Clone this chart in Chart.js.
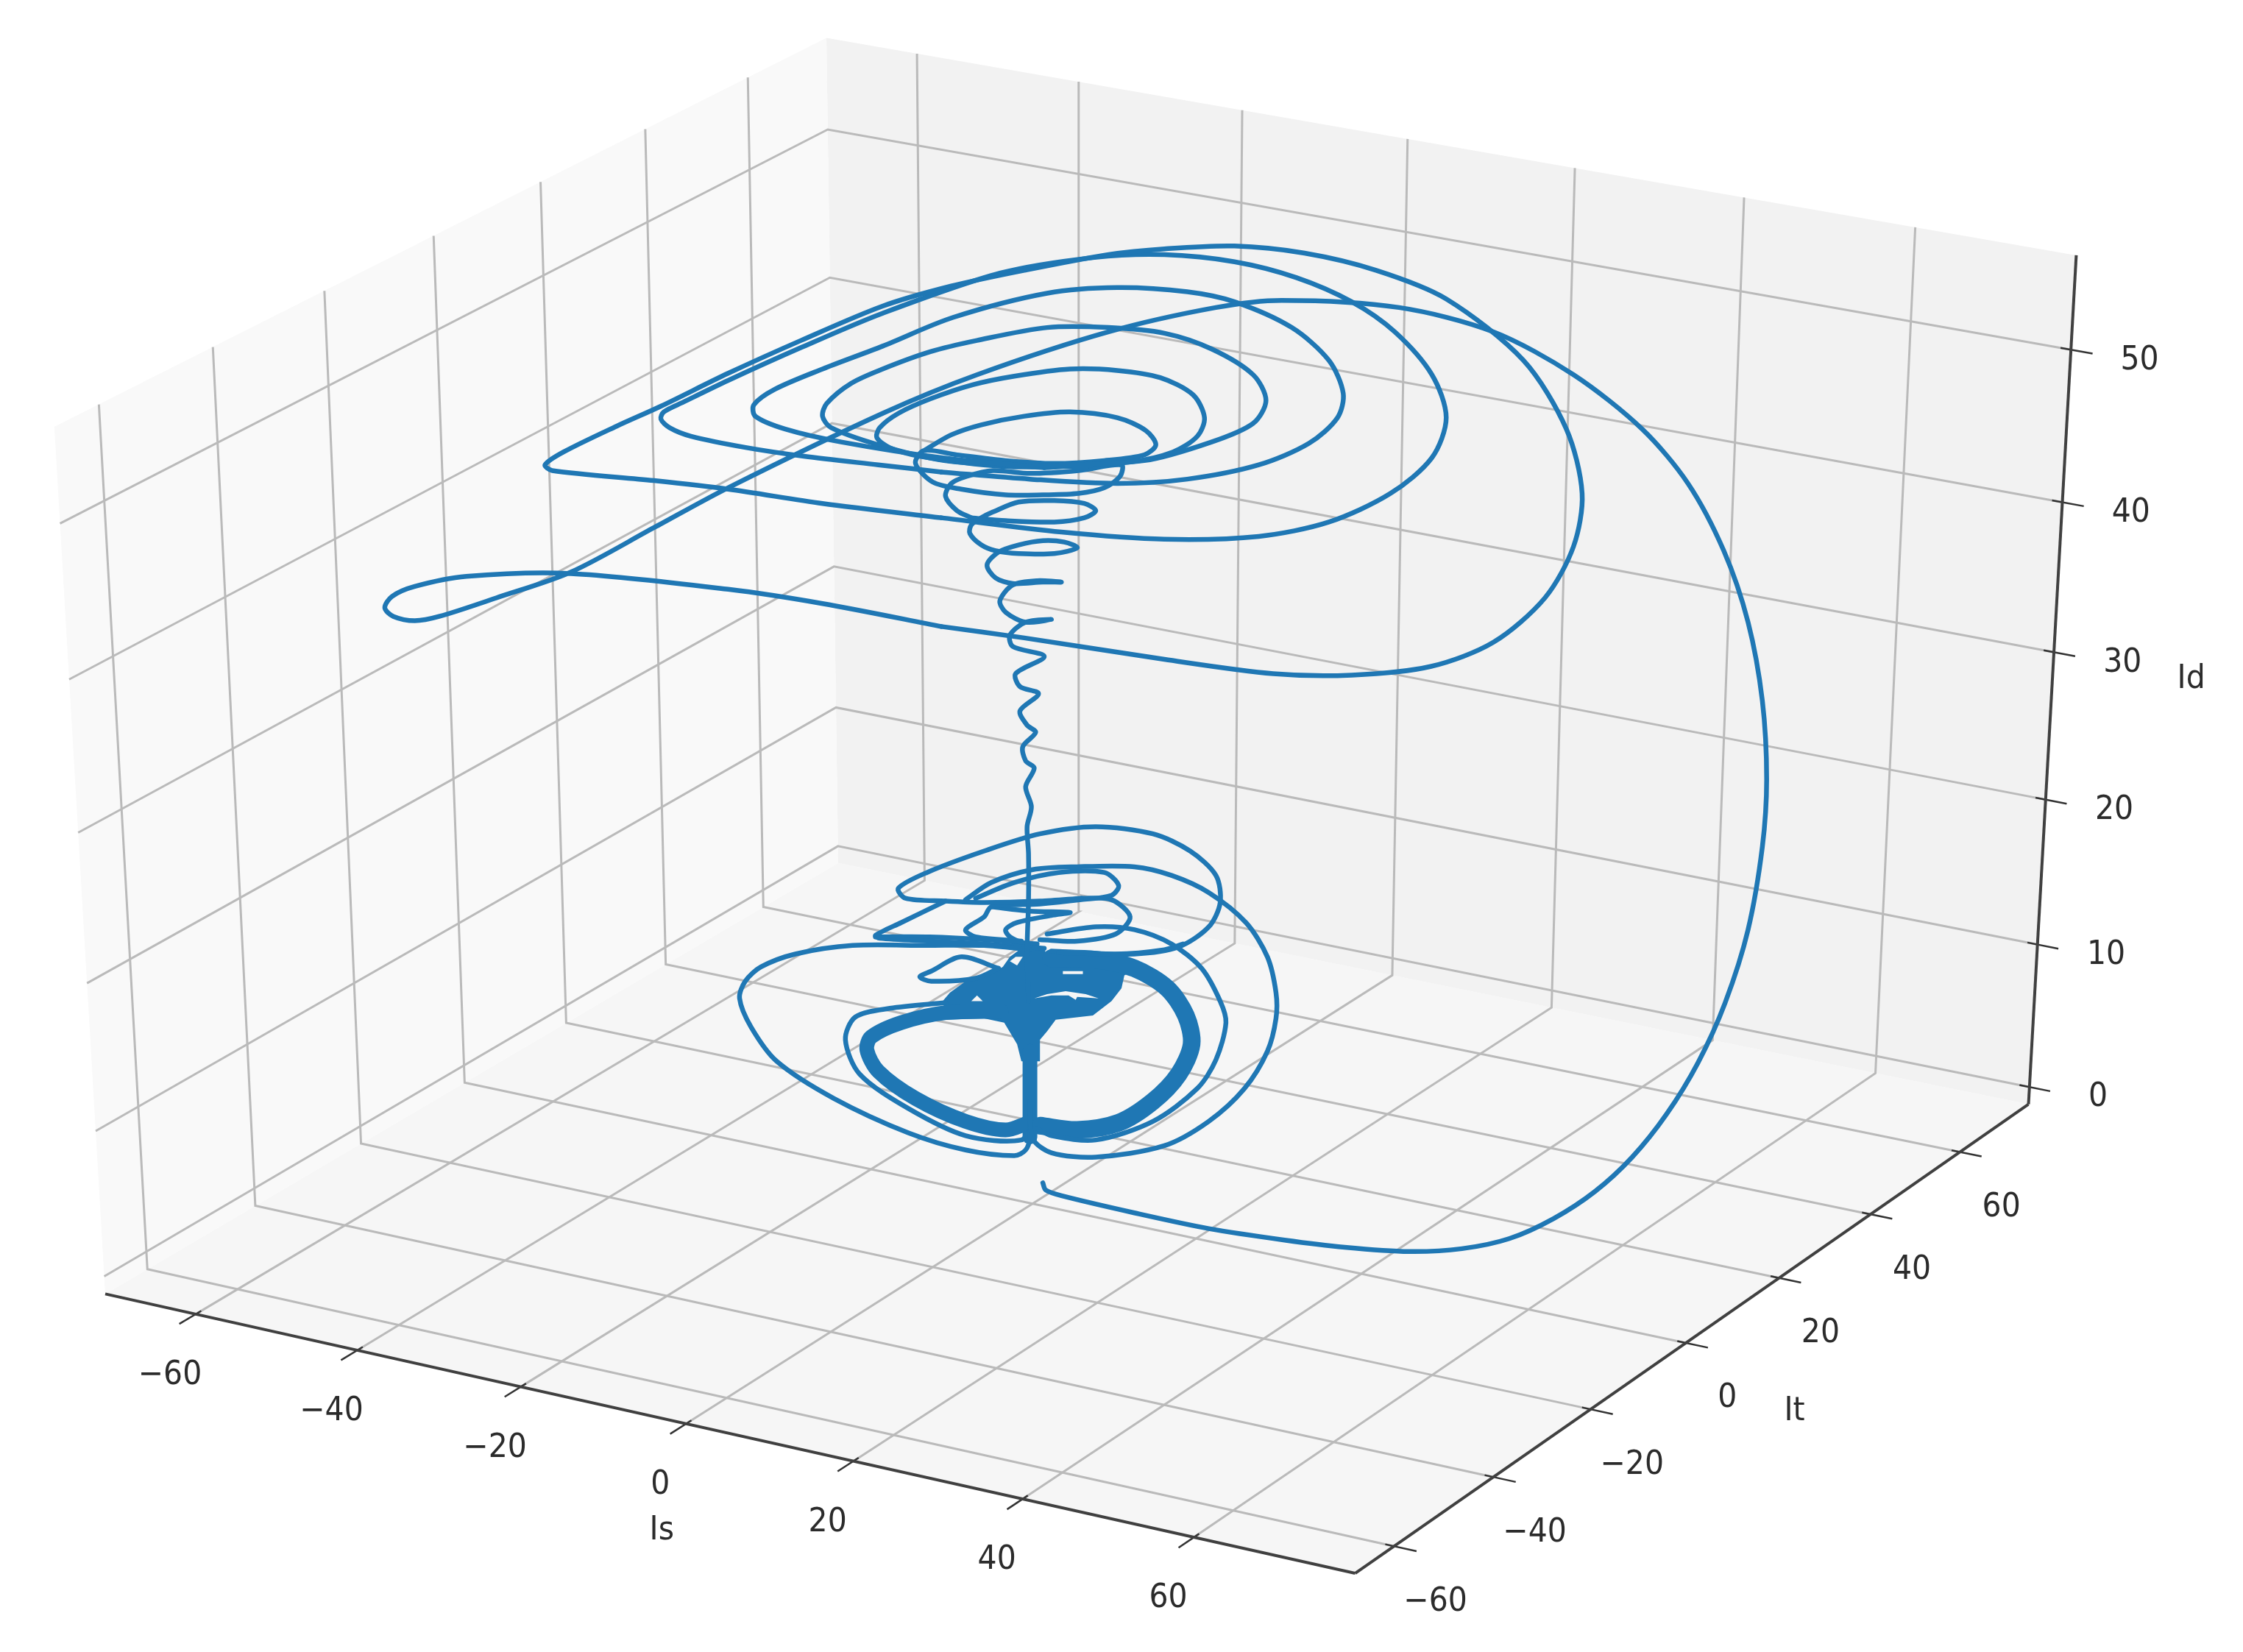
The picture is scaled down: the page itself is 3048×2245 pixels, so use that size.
<!DOCTYPE html>
<html>
<head>
<meta charset="utf-8">
<title>Is It Id</title>
<script src="https://cdn.jsdelivr.net/npm/chart.js@4/dist/chart.umd.min.js"></script>
<style>
  html, body { margin: 0; padding: 0; background: #fff; }
  canvas { display: block; }
</style>
</head>
<body>
<canvas id="chartJsCanvas" width="3048" height="2245"></canvas>
<script>
// tick labels of the three axes
const isTicks = [-60, -40, -20, 0, 20, 40, 60];
const itTicks = [-60, -40, -20, 0, 20, 40, 60];
const idTicks = [0, 10, 20, 30, 40, 50];

// axis limits
const isRange = [-71.3, 78.6];
const itRange = [-67.7, 75.6];
const idRange = [-1.22, 56.1];

// trajectory as [x, y] on the projected view plane
const tailArc = [[729,827],[731,832],[742,836],[793,848],[845,859],[898,867],[940,872],[985,875],[1022,873],[1055,866],[1086,852],[1115,833],[1141,809],[1165,779],[1187,743],[1206,701],[1222,650],[1232,592],[1235,545],[1232,490],[1222,435],[1205,385],[1180,338],[1148,300],[1100,262],[1044,232],[978,215],[896,210],[850,215],[775,232],[683,262],[617,289],[509,341],[457,369],[399,400],[347,418],[307,431],[290,434],[275,431],[269,425],[274,417],[290,410],[326,403],[399,401],[509,412],[575,422],[658,438]];
const ringOne = [[658,438],[716,446],[814,461],[890,471],[945,472],[1000,466],[1044,449],[1080,418],[1100,382],[1106,345],[1095,300],[1065,252],[1011,209],[962,189],[912,177],[863,172],[814,174],[775,178],[716,189],[665,200],[617,214],[560,238],[509,261],[462,284],[431,298],[394,316],[381,325],[386,329],[457,336],[509,342],[575,352],[658,362]];
const ringTwo = [[658,362],[742,372],[814,377],[880,375],[929,365],[972,345],[1001,320],[1011,292],[1001,262],[975,232],[945,211],[906,194],[863,183],[814,178],[765,180],[699,191],[617,219],[560,243],[509,266],[478,281],[464,288],[462,293],[468,299],[483,305],[522,313],[562,319],[614,325],[658,330]];
const ringThree = [[658,330],[720,335],[781,338],[830,335],[880,325],[915,310],[935,292],[939,275],[929,252],[903,229],[863,211],[830,204],[781,201],[732,205],[666,222],[617,242],[575,258],[542,272],[527,283],[528,291],[549,300],[588,309],[658,320],[720,326]];
const ringFour = [[720,326],[800,322],[847,309],[876,296],[885,280],[876,262],[847,244],[814,233],[775,229],[732,229],[683,238],[650,246],[617,258],[595,268],[578,282],[575,291],[581,299],[614,311],[660,322],[730,327]];
const ringFive = [[730,327],[790,323],[820,316],[837,305],[842,292],[834,276],[811,264],[781,259],[748,258],[709,263],[680,269],[650,279],[628,289],[615,299],[613,306],[622,313],[643,319],[700,326],[760,326]];
const ringSix = [[646,315],[665,304],[686,297],[716,291],[748,288],[781,292],[801,301],[808,311],[800,318],[772,322],[737,324],[703,322],[669,318],[646,315],[640,324],[652,337],[672,342],[703,346],[729,346],[754,345],[772,341],[783,333],[784,325],[754,329],[720,331],[694,329],[676,333],[665,338],[661,347],[669,357],[679,362]];
const funnel = [[679,362],[703,364],[737,365],[758,362],[766,357],[758,352],[737,350],[712,351],[694,358],[686,362],[679,367],[678,373],[686,381],[696,385],[712,387],[737,387],[753,383],[744,379],[729,378],[712,381],[698,386],[690,395],[696,404],[708,408],[729,407],[742,407],[725,406],[708,409],[699,420],[703,428],[717,435],[735,433],[717,435],[706,444],[708,452],[730,459],[710,471],[713,480],[726,485],[713,497],[718,507],[724,512],[715,522],[717,532],[723,537],[717,550],[721,564],[718,578],[719,597],[719,630],[718,665],[719,700]];
const lowerOuter = [[675,629],[693,617],[722,608],[753,606],[793,606],[819,612],[845,624],[871,645],[886,669],[892,694],[892,712],[886,735],[870,761],[845,784],[814,801],[766,809],[735,806],[722,796],[720,770]];
const lowerLeft = [[720,770],[720,795],[717,804],[709,808],[675,804],[635,792],[583,768],[543,742],[525,718],[517,698],[521,686],[532,676],[556,667],[596,661],[648,661],[688,661],[720,664]];
const lowerTop = [[740,666],[793,667],[824,662],[845,648],[853,631],[850,612],[832,595],[806,583],[766,578],[727,583],[688,595],[648,610],[628,621],[633,628],[661,630],[688,631],[727,630],[756,628]];
const lowerWedge = [[661,630],[630,645],[612,654],[615,656],[650,658],[688,660],[730,663]];
const lowerWedgeTwo = [[612,655],[650,655],[690,657],[725,660]];
const lowerMiddle = [[732,653],[766,648],[793,650],[819,660],[840,677],[853,700],[857,715],[850,741],[837,761],[806,784],[766,797],[735,794],[725,789]];
const lowerBulgeTop = [[682,628],[709,617],[740,610],[772,610],[782,619],[777,626],[756,629],[727,632],[693,634],[688,641],[675,650],[682,655],[714,658]];
const lowerBulgeMid = [[756,628],[777,629],[790,641],[780,653],[753,658],[727,657]];
const lowerLens = [[693,634],[720,637],[748,638],[735,640],[711,645],[703,650],[706,655],[716,660]];
const lowerCorner = [[698,677],[672,669],[651,679],[643,683],[651,686],[682,684],[698,677]];
const lowerShelf = [[735,665],[780,667],[814,664],[827,660]];
const ringLeftThin = [[661,701],[622,705],[598,711],[591,727],[601,751],[635,775],[675,794],[714,797],[722,785]];

// the turns that overlap so much they read as one wide band
const denseRight = [[727,787],[753,790],[782,785],[806,770],[824,751],[833,730],[829,710],[816,691],[793,677],[766,671],[735,670]];
const denseLeft = [[719,785],[703,790],[675,784],[640,768],[614,749],[606,734],[609,725],[630,715],[661,708],[700,707]];
const denseColumn = [[720,735],[720,760],[720,795]];
const denseCore = [[714,663],[730,663],[732,669],[790,670],[795,677],[786,682],[784,691],[777,700],[764,710],[738,713],[732,721],[727,727],[727,742],[714,742],[711,730],[702,715],[688,712],[662,713],[659,700],[664,694],[675,686],[688,683],[701,676],[706,669]];
const coreGapOne = [[723,698],[732,695],[745,693],[759,695],[768,698],[753,697],[752,699],[747,696],[735,696]];
const coreGapTwo = [[710,669],[715,669],[711,675],[706,672]];
const coreGapThree = [[679,700],[683,696],[687,700]];
const coreGapFour = [[743,679],[757,679],[757,681],[743,681]];

// matplotlib default view: elevation 30, azimuth -60, distance 10
const viewN = [0.433, -0.75, 0.5];
const viewU = [0.866, 0.5, 0];
const viewV = [-0.25, 0.433, 0.866];

function project(a, b, c) {
  const dx = (a - isRange[0]) / (isRange[1] - isRange[0]) - 0.5;
  const dy = (b - itRange[0]) / (itRange[1] - itRange[0]) - 0.5;
  const dz = (c - idRange[0]) / (idRange[1] - idRange[0]) - 0.5;
  const d = 10 - (viewN[0] * dx + viewN[1] * dy + viewN[2] * dz);
  const u = (viewU[0] * dx + viewU[1] * dy + viewU[2] * dz) / d;
  const v = (viewV[0] * dx + viewV[1] * dy + viewV[2] * dz) / d;
  return { x: 756.2 + 10086 * u, y: 544.9 - 6922 * v };
}

const [x0, x1] = isRange, [y0, y1] = itRange, [z0, z1] = idRange;
const datasets = [];

function path3d(points, color, width, order) {
  datasets.push({
    data: points.map(p => project(p[0], p[1], p[2])),
    pointRadius: 0, borderColor: color, borderWidth: width,
    tension: 0, order: order, borderCapStyle: 'butt'
  });
}
function pane(points, color) {
  datasets.push({
    data: points.map(p => project(p[0], p[1], p[2])),
    pointRadius: 0, borderWidth: 0, borderColor: color,
    backgroundColor: color, fill: 'shape', tension: 0, order: 50
  });
}
function trace(points, width, order) {
  datasets.push({
    data: points.map(p => ({ x: p[0], y: p[1] })),
    pointRadius: 0, borderColor: '#1f77b4', borderWidth: width || 6.5,
    tension: 0.3, order: order || 1, borderCapStyle: 'round', borderJoinStyle: 'round'
  });
}
function patch(points, color, order) {
  datasets.push({
    data: points.map(p => ({ x: p[0], y: p[1] })),
    pointRadius: 0, borderWidth: 0, borderColor: color,
    backgroundColor: color, fill: 'shape', tension: 0, order: order
  });
}

pane([[x0,y0,z0],[x0,y0,z1],[x0,y1,z1],[x0,y1,z0]], '#f9f9f9');
pane([[x0,y1,z0],[x0,y1,z1],[x1,y1,z1],[x1,y1,z0]], '#f2f2f2');
pane([[x0,y0,z0],[x1,y0,z0],[x1,y1,z0],[x0,y1,z0]], '#f6f6f6');

const gridColor = '#bababa';
const tickColor = '#333333';
isTicks.forEach(v => {
  path3d([[v,y0,z0],[v,y1,z0],[v,y1,z1]], gridColor, 3, 40);
  path3d([[v,y0-3,z0],[v,y0+1,z0]], tickColor, 2.5, 30);
});
itTicks.forEach(v => {
  path3d([[x1,v,z0],[x0,v,z0],[x0,v,z1]], gridColor, 3, 40);
  path3d([[x1+2.6,v,z0],[x1-1,v,z0]], tickColor, 2.5, 30);
});
idTicks.forEach(v => {
  path3d([[x1,y1,v],[x0,y1,v],[x0,y0,v]], gridColor, 3, 40);
  path3d([[x1+2.5,y1,v],[x1-1.2,y1,v]], tickColor, 2.5, 30);
});
path3d([[x0,y0,z0],[x1,y0,z0]], '#404040', 4, 20);
path3d([[x1,y0,z0],[x1,y1,z0]], '#404040', 4, 20);
path3d([[x1,y1,z0],[x1,y1,z1]], '#404040', 4, 20);

[tailArc, ringOne, ringTwo, ringThree, ringFour, ringFive, ringSix, funnel,
 lowerOuter, lowerLeft, lowerTop, lowerWedge, lowerWedgeTwo, lowerMiddle,
 lowerBulgeTop, lowerBulgeMid, lowerLens, lowerCorner, lowerShelf, ringLeftThin].forEach(s => trace(s));
trace(denseRight, 24, 2);
trace(denseLeft, 20, 2);
trace(denseColumn, 20, 2);
patch(denseCore, '#1f77b4', 3);
patch(coreGapOne, '#f6f6f6', 0);
patch(coreGapTwo, '#f6f6f6', 0);
patch(coreGapThree, '#f6f6f6', 0);
patch(coreGapFour, '#f6f6f6', 0);

const axisText = {
  id: 'axisText',
  afterDraw(chart) {
    const { ctx, scales } = chart;
    const put = (text, p, ox, oy) => {
      ctx.save();
      ctx.translate(scales.x.getPixelForValue(p.x + ox), scales.y.getPixelForValue(p.y + oy));
      ctx.scale(1, 1.1);
      ctx.font = '41px "DejaVu Sans"';
      ctx.fillStyle = '#2b2b2b';
      ctx.textAlign = 'center';
      ctx.textBaseline = 'middle';
      ctx.fillText(text, 0, 0);
      ctx.restore();
    };
    const label = v => String(v).replace('-', '\u2212');
    isTicks.forEach(v => put(label(v), project(v, y0, z0), -18, 43));
    itTicks.forEach(v => put(label(v), project(x1, v, z0), 29, 39));
    idTicks.forEach(v => put(label(v), project(x1, y1, v), 48, 7.5));
    put('Is', project(0, y0, z0), -17, 75);
    put('It', project(x1, 0, z0), 76, 48);
    put('Id', project(x1, y1, 30), 96, 19);
  }
};

new Chart(document.getElementById('chartJsCanvas'), {
  type: 'line',
  data: { datasets: datasets },
  options: {
    responsive: false,
    animation: false,
    layout: { padding: 0 },
    plugins: { legend: { display: false }, tooltip: { enabled: false }, title: { display: false } },
    scales: {
      x: { type: 'linear', min: 0, max: 1568, display: false },
      y: { type: 'linear', min: 0, max: 1155, reverse: true, display: false }
    }
  },
  plugins: [axisText]
});
</script>
</body>
</html>
